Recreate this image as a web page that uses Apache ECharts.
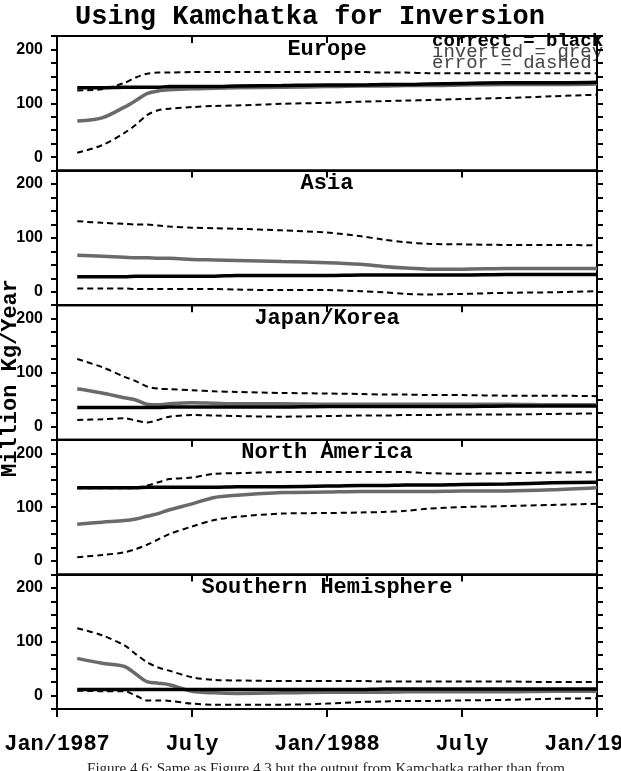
<!DOCTYPE html>
<html>
<head>
<meta charset="utf-8">
<script src="https://cdn.jsdelivr.net/npm/echarts@6/dist/echarts.min.js"></script>
<style>
  html, body { margin: 0; padding: 0; background: #fff; }
  #main { width: 621px; height: 771px; }
</style>
</head>
<body>
<div id="main"></div>
<script>
// months after Jan/1987
var months = [0.9, 2, 3, 3.5, 4, 4.5, 5, 6, 7, 8, 10, 12, 13.5, 14.5, 15.5, 16.5, 18, 20, 22, 24];

var panelNames = ['Europe', 'Asia', 'Japan/Korea', 'North America', 'Southern Hemisphere'];
var xTickLabels = ['Jan/1987', 'July', 'Jan/1988', 'July', 'Jan/1989'];
var yTickLabels = ['0', '100', '200'];

// Europe
var euCorrect  = [129,129,130,130,130,130,131,131,131,132,133,134,134,135,135,136,137,138,138,139];
var euInverted = [67,73,93,105,118,123,125,127,128,129,130,131,132,132,133,133,134,135,135,136];
var euErrHi    = [124,126,138,148,155,157,157,158,158,158,158,158,158,157,157,156,156,156,156,156];
var euErrLo    = [8,22,45,60,78,87,90,93,95,96,99,101,103,104,105,106,108,110,113,116];

// Asia
var asCorrect  = [28,28,28,29,29,29,29,29,29,30,30,30,31,31,31,31,31,32,32,32];
var asInverted = [68,66,64,63,63,62,62,60,59,58,56,54,51,47,44,42,42,43,43,43];
var asErrHi    = [131,128,126,125,125,123,121,119,118,117,114,110,103,97,92,89,88,87,87,86];
var asErrLo    = [6,6,6,5,5,5,5,5,5,4,3,3,1,-1,-4,-5,-4,-2,-1,1];

// Japan/Korea
var jkCorrect  = [35,35,35,35,35,35,36,36,36,36,36,37,37,37,37,37,37,38,38,38];
var jkInverted = [70,62,53,49,41,40,42,44,43,42,42,41,41,41,41,41,41,41,40,40];
var jkErrHi    = [125,110,92,84,74,70,69,67,65,64,62,61,60,59,59,58,58,57,57,56];
var jkErrLo    = [12,13,15,11,7,12,18,21,20,19,18,19,20,20,21,21,22,22,23,24];

// North America
var naCorrect  = [136,136,136,136,137,137,137,137,137,138,138,139,140,140,141,141,142,143,145,146];
var naInverted = [68,72,75,78,83,88,95,106,118,122,127,128,129,129,129,129,130,130,132,136];
var naErrHi    = [135,135,135,136,140,146,152,155,162,163,165,165,165,165,165,163,162,163,164,165];
var naErrLo    = [7,11,16,22,30,40,50,64,76,82,88,89,90,91,93,97,100,102,104,106];

// Southern Hemisphere
var shCorrect  = [11,11,11,11,11,11,11,11,11,11,11,11,11,12,12,12,12,12,12,12];
var shInverted = [69,60,54,40,26,23,20,8,5,4,5,6,6,6,7,7,7,7,8,8];
var shErrHi    = [125,112,93,77,62,52,46,34,29,28,27,27,27,26,26,26,26,26,25,25];
var shErrLo    = [9,8,8,0,-9,-9,-10,-15,-17,-17,-17,-15,-12,-11,-10,-10,-9,-8,-6,-5];

var panels = [
    [euCorrect, euInverted, euErrHi, euErrLo],
    [asCorrect, asInverted, asErrHi, asErrLo],
    [jkCorrect, jkInverted, jkErrHi, jkErrLo],
    [naCorrect, naInverted, naErrHi, naErrLo],
    [shCorrect, shInverted, shErrHi, shErrLo]
];

function pairs(vals) {
    return months.map(function (m, i) { return [m, vals[i]]; });
}

var mono = '"Liberation Mono", "DejaVu Sans Mono", monospace';
var plotTop = 36, panelH = 134.6, plotLeft = 57, plotRight = 24;

var grids = [], xAxes = [], yAxes = [], series = [], graphics = [];

panels.forEach(function (p, i) {
    var top = plotTop + i * panelH;
    grids.push({
        left: plotLeft, right: plotRight, top: top, height: panelH,
        outerBoundsMode: 'none', containLabel: false,
        show: true, borderColor: '#000', borderWidth: 2, backgroundColor: 'transparent'
    });
    // top axis, ticks pointing in
    xAxes.push({
        type: 'value', gridIndex: i, position: 'top', min: 0, max: 24, interval: 6,
        axisLine: {show: true, onZero: false, lineStyle: {color: '#000', width: 2}},
        axisTick: {show: true, inside: true, length: 7, lineStyle: {color: '#000', width: 2}},
        axisLabel: {show: false},
        splitLine: {show: false}
    });
    // left axis with labels
    yAxes.push({
        type: 'value', gridIndex: i, position: 'left', min: -25, max: 225, interval: 25,
        axisLine: {show: true, onZero: false, lineStyle: {color: '#000', width: 2}},
        axisTick: {show: true, inside: false, length: 6, lineStyle: {color: '#000', width: 2}},
        axisLabel: {
            show: true, margin: 14, color: '#000', fontWeight: 'bold', fontSize: 16,
            fontFamily: '"Liberation Sans", Arial, sans-serif',
            formatter: function (v) {
                return yTickLabels.indexOf(String(v)) >= 0 ? String(v) : '';
            }
        },
        splitLine: {show: false}
    });
    // right axis, ticks only
    yAxes.push({
        type: 'value', gridIndex: i, position: 'right', min: -25, max: 225, interval: 25,
        axisLine: {show: true, onZero: false, lineStyle: {color: '#000', width: 2}},
        axisTick: {show: true, inside: false, length: 6, lineStyle: {color: '#000', width: 2}},
        axisLabel: {show: false},
        splitLine: {show: false}
    });
    var xi = i, yi = i * 2;
    series.push({
        type: 'line', xAxisIndex: xi, yAxisIndex: yi, data: pairs(p[2]),
        symbol: 'none', smooth: 0.3, silent: true,
        lineStyle: {color: '#000', width: 2, type: [6, 4]}
    });
    series.push({
        type: 'line', xAxisIndex: xi, yAxisIndex: yi, data: pairs(p[3]),
        symbol: 'none', smooth: 0.3, silent: true,
        lineStyle: {color: '#000', width: 2, type: [6, 4]}
    });
    series.push({
        type: 'line', xAxisIndex: xi, yAxisIndex: yi, data: pairs(p[1]),
        symbol: 'none', smooth: 0.3, silent: true,
        lineStyle: {color: '#6a6a6a', width: 3.5}
    });
    series.push({
        type: 'line', xAxisIndex: xi, yAxisIndex: yi, data: pairs(p[0]),
        symbol: 'none', smooth: 0.3, silent: true,
        lineStyle: {color: '#000', width: 3.5}
    });
    // panel title
    graphics.push({
        type: 'text', x: 327, y: top + 13,
        style: {
            text: panelNames[i], fill: '#000',
            font: 'bold 22px ' + mono, textAlign: 'center', textVerticalAlign: 'middle'
        }
    });
});

// bottom time axis with labels
xAxes.push({
    type: 'value', gridIndex: 4, position: 'bottom', min: 0, max: 24, interval: 6,
    axisLine: {show: true, onZero: false, lineStyle: {color: '#000', width: 2}},
    axisTick: {show: true, inside: false, length: 8, lineStyle: {color: '#000', width: 2}},
    axisLabel: {
        show: true, margin: 24, color: '#000', fontSize: 22, fontWeight: 'bold', fontFamily: mono,
        formatter: function (v) { return xTickLabels[Math.round(v / 6)]; }
    },
    splitLine: {show: false}
});

graphics.push({
    type: 'text', x: 310, y: 17,
    style: {text: 'Using Kamchatka for Inversion', fill: '#000', font: 'bold 27px ' + mono,
        textAlign: 'center', textVerticalAlign: 'middle'}
});
graphics.push({
    type: 'text', x: 10, y: 378, rotation: Math.PI / 2,
    style: {text: 'Million Kg/Year', fill: '#000', font: 'bold 22px ' + mono,
        textAlign: 'center', textVerticalAlign: 'middle'}
});
graphics.push({
    type: 'text', x: 432, y: 41,
    style: {text: 'correct = black', fill: '#000', font: 'bold 19px ' + mono, textVerticalAlign: 'middle'}
});
graphics.push({
    type: 'text', x: 432, y: 52,
    style: {text: 'inverted = grey', fill: '#444', font: '19px ' + mono, textVerticalAlign: 'middle'}
});
graphics.push({
    type: 'text', x: 432, y: 63,
    style: {text: 'error = dashed', fill: '#444', font: '19px ' + mono, textVerticalAlign: 'middle'}
});
graphics.push({
    type: 'text', x: 326, y: 762,
    style: {text: 'Figure 4.6: Same as Figure 4.3 but the output from Kamchatka rather than from',
        fill: '#222', font: '15px "Liberation Serif", serif', textAlign: 'center', textVerticalAlign: 'top'}
});

var myChart = echarts.init(document.getElementById('main'), null, {renderer: 'canvas'});
myChart.setOption({
    animation: false,
    backgroundColor: '#fff',
    grid: grids,
    xAxis: xAxes,
    yAxis: yAxes,
    series: series,
    graphic: graphics
});
</script>
</body>
</html>
